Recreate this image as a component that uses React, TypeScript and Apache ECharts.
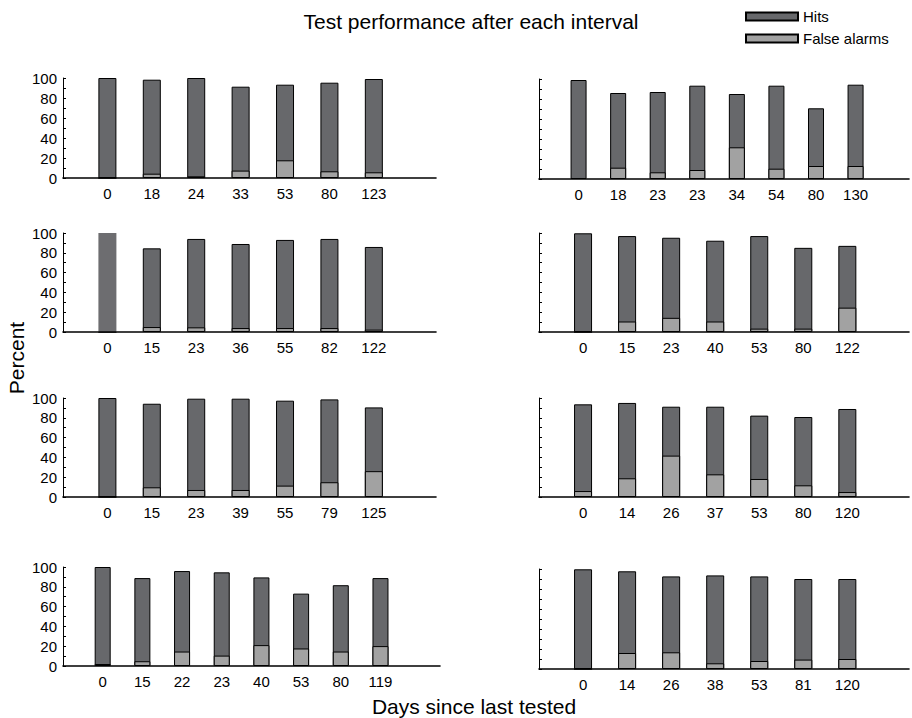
import { useEffect, useRef } from "react";
import * as echarts from "echarts";

// Days since last tested, hit rates and false-alarm rates (percent) per panel.
const p1Days = ["0", "18", "24", "33", "53", "80", "123"];
const p1Hits = [100, 98.3, 100, 91.3, 93.3, 95.3, 99];
const p1False = [0, 4.3, 1.7, 7.4, 17.7, 6.7, 5.7];

const p2Days = ["0", "18", "23", "23", "34", "54", "80", "130"];
const p2Hits = [99, 86, 87, 93.3, 85, 93.3, 70.7, 94.3];
const p2False = [1, 11.3, 6.7, 9, 31.7, 10.3, 13, 13];

const p3Days = ["0", "15", "23", "36", "55", "82", "122"];
const p3Hits = [100, 84.5, 94, 88.9, 93, 94, 85.9];
const p3False = [0, 5, 4.7, 4, 4, 4, 2.4];

const p4Days = ["0", "15", "23", "40", "53", "80", "122"];
const p4Hits = [99.7, 96.9, 95.2, 92.2, 96.9, 85, 87];
const p4False = [0, 10.6, 14.3, 10.6, 3.4, 3.4, 24.6];

const p5Days = ["0", "15", "23", "39", "55", "79", "125"];
const p5Hits = [100, 94.2, 99.3, 99.3, 97.3, 98.6, 90.5];
const p5False = [0, 9.8, 7.1, 7.1, 11.5, 14.9, 26.1];

const p6Days = ["0", "14", "26", "37", "53", "80", "120"];
const p6Hits = [93.6, 95, 91.2, 91.2, 82.2, 80.8, 88.9];
const p6False = [6, 18.9, 41.8, 22.9, 18.2, 11.8, 5];

const p7Days = ["0", "15", "22", "23", "40", "53", "80", "119"];
const p7Hits = [100, 88.8, 95.9, 94.6, 89.5, 73.1, 81.6, 88.8];
const p7False = [2, 4.8, 14.6, 10.5, 21.1, 17.7, 14.6, 20.1];

const p8Days = ["0", "14", "26", "38", "53", "81", "120"];
const p8Hits = [99.7, 97.7, 92.6, 93.6, 92.6, 90, 90];
const p8False = [0, 16, 16.7, 5.7, 8, 9.4, 10];

const panelDays = [p1Days, p2Days, p3Days, p4Days, p5Days, p6Days, p7Days, p8Days];
const panelHits = [p1Hits, p2Hits, p3Hits, p4Hits, p5Hits, p6Hits, p7Hits, p8Hits];
const panelFalse = [p1False, p2False, p3False, p4False, p5False, p6False, p7False, p8False];

const TITLE = "Test performance after each interval";
const X_NAME = "Days since last tested";
const Y_NAME = "Percent";

const FONT = "'Liberation Sans', Arial, Helvetica, sans-serif";
const HIT_COLOR = "#67686b";
const FA_COLOR = "#a2a2a2";

// Plot boxes for the 4 x 2 panel layout (left column carries the tick labels).
const boxes = [
  { left: 63, top: 78, width: 373, height: 100, tail: 1.4 },
  { left: 539, top: 79, width: 371, height: 100, tail: 1.35 },
  { left: 63, top: 233, width: 373, height: 99, tail: 1.4 },
  { left: 539, top: 233, width: 371, height: 99, tail: 1.4 },
  { left: 63, top: 398, width: 373, height: 99, tail: 1.4 },
  { left: 539, top: 398, width: 371, height: 99, tail: 1.4 },
  { left: 63, top: 567, width: 377, height: 99, tail: 1.5 },
  { left: 539, top: 569, width: 371, height: 100, tail: 1.4 },
];

function buildOption() {
  const grid: any[] = [];
  const xAxis: any[] = [];
  const yAxis: any[] = [];
  const series: any[] = [];

  boxes.forEach((b, p) => {
    const days = panelDays[p];
    const max = days.length + b.tail;
    const barWidth = Math.round((0.4 * b.width) / max);
    const isLeft = p % 2 === 0;

    grid.push({ left: b.left, top: b.top, width: b.width, height: b.height, containLabel: false });
    xAxis.push({
      type: "value",
      gridIndex: p,
      min: 0,
      max,
      interval: 1,
      axisLine: { onZero: false, lineStyle: { color: "#000", width: 1.6 } },
      axisTick: { show: false },
      splitLine: { show: false },
      axisLabel: {
        margin: 8,
        fontSize: 15,
        color: "#000",
        fontFamily: FONT,
        showMinLabel: true,
        showMaxLabel: true,
        formatter: (v: number) => (Number.isInteger(v) && days[v - 1] !== undefined ? days[v - 1] : ""),
      },
    });
    yAxis.push({
      type: "value",
      gridIndex: p,
      min: 0,
      max: 100,
      interval: 10,
      axisLine: { show: true, lineStyle: { color: "#000", width: 1 } },
      axisTick: { show: true, inside: true, length: 3, lineStyle: { color: "#000", width: 1 } },
      splitLine: { show: false },
      axisLabel: {
        show: isLeft,
        margin: 6,
        fontSize: 15,
        color: "#000",
        fontFamily: FONT,
        formatter: (v: number) => (v % 20 === 0 ? String(v) : ""),
      },
    });

    const hitData = panelHits[p].map((v, i) => {
      const item: any = { value: [i + 1, v] };
      // the baseline bar of the second left panel is drawn without an outline
      if (p === 2 && i === 0) item.itemStyle = { borderWidth: 0, color: "#6d6d70" };
      return item;
    });
    const faData = panelFalse[p].map((v, i) => [i + 1, v]);

    series.push({
      name: "Hits",
      type: "bar",
      xAxisIndex: p,
      yAxisIndex: p,
      barWidth,
      barGap: "-100%",
      data: hitData,
      itemStyle: { color: HIT_COLOR, borderColor: "#000", borderWidth: 1 },
    });
    series.push({
      name: "False alarms",
      type: "bar",
      xAxisIndex: p,
      yAxisIndex: p,
      barWidth,
      barGap: "-100%",
      data: faData,
      itemStyle: { color: FA_COLOR, borderColor: "#000", borderWidth: 1 },
    });
  });

  return {
    animation: false,
    backgroundColor: "#fff",
    textStyle: { fontFamily: FONT },
    legend: {
      orient: "vertical",
      left: 740,
      top: 4,
      itemWidth: 52,
      itemHeight: 8,
      itemGap: 7,
      icon: "rect",
      data: ["Hits", "False alarms"],
      textStyle: { fontSize: 15, color: "#000", fontFamily: FONT },
      selectedMode: false,
    },
    grid,
    xAxis,
    yAxis,
    series,
    graphic: [
      {
        type: "text",
        x: 471,
        y: 21,
        style: {
          text: TITLE,
          font: `21px ${FONT}`,
          fill: "#000",
          align: "center",
          verticalAlign: "middle",
        },
      },
      {
        type: "text",
        x: 474,
        y: 706,
        style: {
          text: X_NAME,
          font: `21px ${FONT}`,
          fill: "#000",
          align: "center",
          verticalAlign: "middle",
        },
      },
      {
        type: "text",
        x: 16,
        y: 358,
        rotation: Math.PI / 2,
        style: {
          text: Y_NAME,
          font: `21px ${FONT}`,
          fill: "#000",
          align: "center",
          verticalAlign: "middle",
        },
      },
    ],
  };
}

export default function App() {
  const ref = useRef<HTMLDivElement>(null);

  useEffect(() => {
    document.body.style.margin = "0";
    if (!ref.current) return;
    const chart = echarts.init(ref.current, undefined, { renderer: "svg" });
    chart.setOption(buildOption() as any);
    return () => chart.dispose();
  }, []);

  return <div ref={ref} style={{ width: 912, height: 718 }} />;
}
